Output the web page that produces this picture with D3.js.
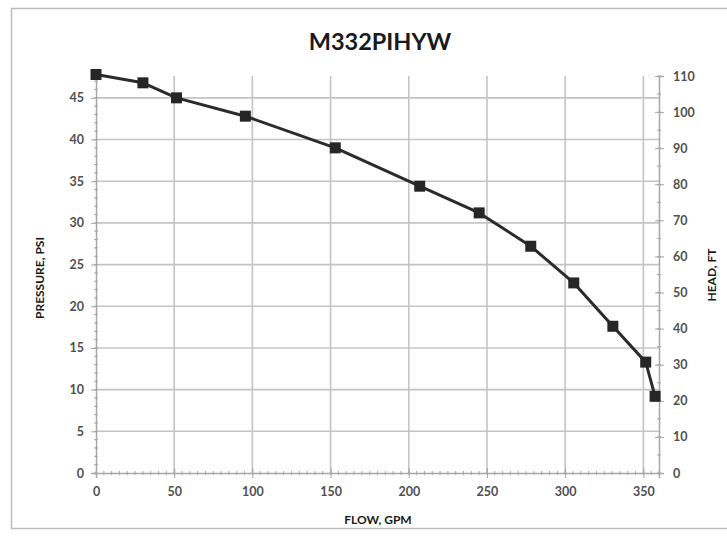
<!DOCTYPE html>
<html>
<head>
<meta charset="utf-8">
<script src="https://cdn.jsdelivr.net/npm/d3@7"></script>
<style>
  body { margin: 0; background: #fff; }
  svg { display: block; }
  text { font-family: Lato, "Open Sans", sans-serif; }
</style>
</head>
<body>
<svg id="chart" width="727" height="538"></svg>
<script>
const chartTitle = "M332PIHYW";
const flowGpm = [0, 30, 51.5, 95.5, 153, 207, 245, 278, 305.5, 330.5, 351.5, 357.5];
const pressurePsi = [47.8, 46.8, 45.0, 42.8, 39.0, 34.4, 31.2, 27.2, 22.8, 17.6, 13.3, 9.2];
const xTicks = [0, 50, 100, 150, 200, 250, 300, 350];
const yLeftTicks = [0, 5, 10, 15, 20, 25, 30, 35, 40, 45];
const yRightTicks = [0, 10, 20, 30, 40, 50, 60, 70, 80, 90, 100, 110];
const xLabel = "FLOW, GPM";
const yLeftLabel = "PRESSURE, PSI";
const yRightLabel = "HEAD, FT";
const FT_PER_PSI = 2.31;

const svg = d3.select("#chart");
const pL = 96, pR = 659, pT = 76, pB = 473;

// frame
svg.append("rect").attr("x", 11.5).attr("y", 8.5).attr("width", 760).attr("height", 520)
  .attr("fill", "#fff").attr("stroke", "#bdbdbd").attr("stroke-width", 1.5);

const x = d3.scaleLinear().domain([0, 360]).range([pL, pR]);
const yR = d3.scaleLinear().domain([0, 110]).range([pB, pT]);
const y = d3.scaleLinear().domain([0, 110 / FT_PER_PSI]).range([pB, pT]);

const gridColor = "#c4c4c4";
const axisColor = "#a6a6a6";
const labelColor = "#505050";

// gridlines
svg.append("g").selectAll("line").data(xTicks.filter(d => d > 0)).join("line")
  .attr("x1", d => x(d)).attr("x2", d => x(d)).attr("y1", pT).attr("y2", pB)
  .attr("stroke", gridColor).attr("stroke-width", 1.6);
svg.append("g").selectAll("line").data(yLeftTicks.filter(d => d > 0)).join("line")
  .attr("x1", pL).attr("x2", pR).attr("y1", d => y(d)).attr("y2", d => y(d))
  .attr("stroke", gridColor).attr("stroke-width", 1.6);

// minor ticks
const minorY = d3.range(0, 48, 1);
svg.append("g").selectAll("line").data(minorY).join("line")
  .attr("x1", pL - 2).attr("x2", pL + 2).attr("y1", d => y(d)).attr("y2", d => y(d))
  .attr("stroke", axisColor).attr("stroke-width", 1);
const minorX = d3.range(0, 361, 5);
svg.append("g").selectAll("line").data(minorX).join("line")
  .attr("x1", d => x(d)).attr("x2", d => x(d)).attr("y1", pB - 2).attr("y2", pB + 2)
  .attr("stroke", axisColor).attr("stroke-width", 1);
const minorR = d3.range(0, 111, 5);
svg.append("g").selectAll("line").data(minorR).join("line")
  .attr("x1", pR - 2).attr("x2", pR + 2).attr("y1", d => yR(d)).attr("y2", d => yR(d))
  .attr("stroke", axisColor).attr("stroke-width", 1);

// axes
const axL = svg.append("g").attr("transform", `translate(${pL},0)`)
  .call(d3.axisLeft(y).tickValues(yLeftTicks).tickSize(5).tickPadding(7));
const axB = svg.append("g").attr("transform", `translate(0,${pB})`)
  .call(d3.axisBottom(x).tickValues(xTicks).tickSize(5).tickPadding(9));
const axR = svg.append("g").attr("transform", `translate(${pR},0)`)
  .call(d3.axisRight(yR).tickValues(yRightTicks).tickSize(5).tickPadding(9));
[axL, axB, axR].forEach(g => {
  g.select(".domain").attr("stroke", axisColor).attr("stroke-width", 1.5);
  g.selectAll(".tick line").attr("stroke", axisColor).attr("stroke-width", 1);
  g.selectAll(".tick text").attr("fill", labelColor).attr("font-size", 12.5)
    .attr("font-weight", "bold").style("font-family", "Lato, sans-serif");
});
axB.selectAll(".tick line").attr("y1", -5);
axR.selectAll(".tick line").attr("x1", -4);

// line + markers
const pts = flowGpm.map((f, i) => [f, pressurePsi[i]]);
svg.append("path").datum(pts)
  .attr("d", d3.line().x(d => x(d[0])).y(d => y(d[1])))
  .attr("fill", "none").attr("stroke", "#2b2b2b").attr("stroke-width", 3)
  .attr("stroke-linejoin", "round");
svg.append("g").selectAll("rect").data(pts).join("rect")
  .attr("x", d => x(d[0]) - 5.5).attr("y", d => y(d[1]) - 5.5)
  .attr("width", 11).attr("height", 11).attr("fill", "#262626");

// titles
svg.append("text").attr("x", 380).attr("y", 50).attr("text-anchor", "middle")
  .attr("font-size", 23.5).attr("font-weight", "bold").attr("fill", "#1a1a1a").text(chartTitle);
svg.append("text").attr("x", 378).attr("y", 524).attr("text-anchor", "middle")
  .attr("font-size", 12).attr("font-weight", "bold").attr("fill", "#1a1a1a").text(xLabel);
svg.append("text").attr("transform", "translate(44,278) rotate(-90)").attr("text-anchor", "middle")
  .attr("font-size", 12).attr("font-weight", "bold").attr("fill", "#1a1a1a").text(yLeftLabel);
svg.append("text").attr("transform", "translate(716,275) rotate(-90)").attr("text-anchor", "middle")
  .attr("font-size", 12).attr("font-weight", "bold").attr("fill", "#1a1a1a").text(yRightLabel);
</script>
</body>
</html>
